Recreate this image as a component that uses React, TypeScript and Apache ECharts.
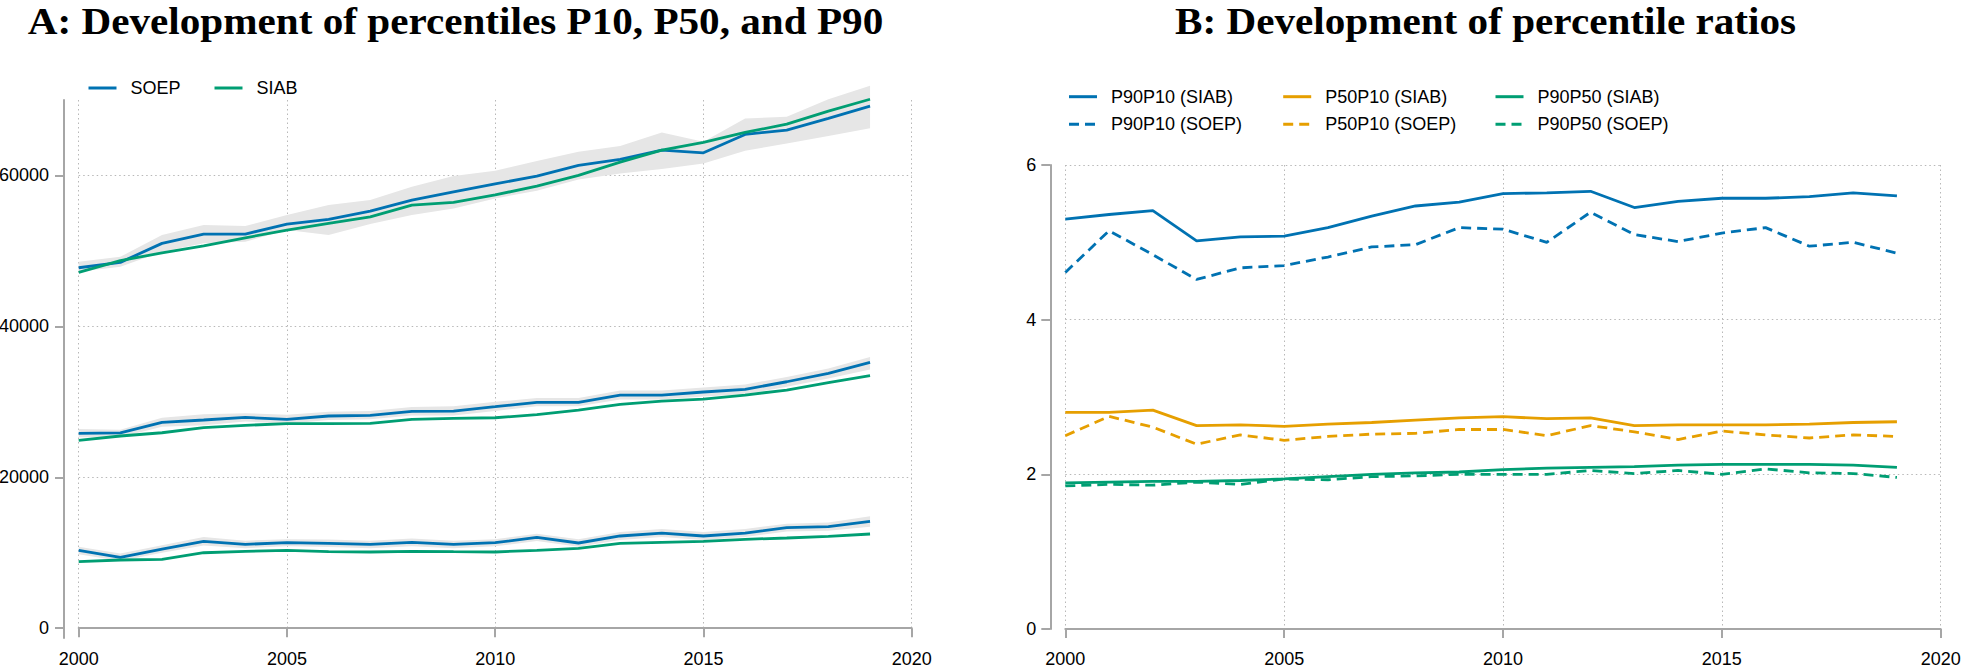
import React, { useEffect, useRef } from "react";
import * as echarts from "echarts";

const years = [2000, 2001, 2002, 2003, 2004, 2005, 2006, 2007, 2008, 2009, 2010, 2011, 2012, 2013, 2014, 2015, 2016, 2017, 2018, 2019];

// Panel A: percentiles (annual earnings)
const p90Soep = [47770, 48480, 51000, 52230, 52230, 53560, 54180, 55280, 56740, 57840, 58880, 59920, 61330, 62130, 63360, 63000, 65440, 66010, 67560, 69190];
const p90Siab = [47150, 48700, 49750, 50680, 51740, 52760, 53650, 54520, 56070, 56430, 57420, 58590, 60010, 61770, 63360, 64380, 65700, 66800, 68530, 70100];
const p90SoepLo = [47240, 47900, 49890, 51000, 51210, 52760, 52100, 53560, 54750, 55630, 56960, 57970, 59480, 60270, 60840, 61600, 63270, 64240, 65220, 66240];
const p90SoepHi = [48560, 49220, 52100, 53420, 53290, 54750, 56070, 56740, 58500, 59920, 60620, 61900, 63140, 63890, 65700, 64460, 67560, 67770, 70100, 71900];

const p50Soep = [25820, 25880, 27280, 27590, 27940, 27680, 28120, 28210, 28740, 28780, 29350, 29930, 29930, 30900, 30900, 31300, 31650, 32660, 33770, 35230];
const p50Siab = [24900, 25470, 25900, 26570, 26880, 27100, 27100, 27150, 27680, 27810, 27890, 28290, 28910, 29670, 30100, 30370, 30900, 31560, 32530, 33460];
const p50SoepLo = [25300, 25300, 26700, 26900, 27400, 27100, 27600, 27700, 28200, 28200, 28800, 29400, 29400, 30300, 30300, 30700, 31000, 32000, 33100, 34300];
const p50SoepHi = [26400, 26300, 27900, 28350, 28500, 28300, 28700, 28800, 29300, 29400, 30000, 30500, 30500, 31500, 31500, 31900, 32300, 33300, 34400, 35950];

const p10Soep = [10320, 9390, 10490, 11510, 11110, 11330, 11250, 11110, 11380, 11110, 11330, 12040, 11290, 12220, 12610, 12220, 12610, 13320, 13450, 14160];
const p10Siab = [8810, 9040, 9130, 10000, 10190, 10320, 10140, 10100, 10190, 10140, 10100, 10320, 10590, 11250, 11380, 11510, 11780, 11950, 12180, 12480];
const p10SoepLo = [9800, 8900, 10000, 10950, 10600, 10850, 10750, 10600, 10850, 10600, 10850, 11550, 10800, 11700, 12100, 11700, 12100, 12800, 12900, 13450];
const p10SoepHi = [10800, 9900, 11000, 12100, 11600, 11800, 11750, 11600, 11900, 11600, 11800, 12500, 11800, 12750, 13150, 12750, 13150, 13850, 14000, 14850];

// Panel B: percentile ratios
const p90p10Siab = [5.30, 5.36, 5.41, 5.02, 5.07, 5.08, 5.19, 5.34, 5.47, 5.52, 5.63, 5.64, 5.66, 5.45, 5.53, 5.57, 5.57, 5.59, 5.64, 5.60];
const p90p10Soep = [4.61, 5.15, 4.84, 4.52, 4.67, 4.70, 4.81, 4.94, 4.97, 5.19, 5.17, 5.00, 5.39, 5.10, 5.01, 5.12, 5.19, 4.95, 5.00, 4.86];
const p50p10Siab = [2.80, 2.80, 2.83, 2.63, 2.64, 2.62, 2.65, 2.67, 2.70, 2.73, 2.745, 2.72, 2.73, 2.63, 2.64, 2.64, 2.64, 2.65, 2.67, 2.68];
const p50p10Soep = [2.50, 2.75, 2.61, 2.39, 2.51, 2.44, 2.49, 2.52, 2.53, 2.58, 2.58, 2.50, 2.63, 2.55, 2.45, 2.56, 2.51, 2.47, 2.51, 2.49];
const p90p50Siab = [1.89, 1.90, 1.91, 1.91, 1.92, 1.94, 1.97, 2.00, 2.02, 2.03, 2.06, 2.08, 2.09, 2.10, 2.12, 2.13, 2.13, 2.13, 2.12, 2.09];
const p90p50Soep = [1.85, 1.87, 1.86, 1.90, 1.87, 1.94, 1.93, 1.97, 1.98, 2.00, 2.00, 2.00, 2.05, 2.01, 2.05, 2.00, 2.07, 2.02, 2.01, 1.96];

const yTicksA = [0, 20000, 40000, 60000];
const titleA = "A: Development of percentiles P10, P50, and P90";
const titleB = "B: Development of percentile ratios";

const BLUE = "#0072B2";
const GREEN = "#009E73";
const ORANGE = "#E69F00";
const BAND = "#e6e6e6";
const AXIS = "#a6a6a6";
const GRIDC = "#b8b8b8";
const FONT = "Liberation Sans";

const pairs = (vals: number[]) => vals.map((v, i) => [years[i], v]);

export default function App() {
  const ref = useRef<HTMLDivElement>(null);
  useEffect(() => {
    if (!ref.current) return;
    const chart = echarts.init(ref.current, null, { renderer: "svg" });

    const bandSeries = (key: string, lo: number[], hi: number[]) => ({
      type: "custom", name: key, xAxisIndex: 0, yAxisIndex: 0, clip: false, silent: true, z: 1,
      data: [[years[0], lo[0]]],
      renderItem: (_params: any, api: any) => {
        const pts: number[][] = [];
        for (let i = 0; i < years.length; i++) pts.push(api.coord([years[i], hi[i]]));
        for (let i = years.length - 1; i >= 0; i--) pts.push(api.coord([years[i], lo[i]]));
        return { type: "polygon", shape: { points: pts }, style: { fill: BAND, stroke: "none" } };
      },
    });
    const lineA = (name: string, vals: number[], color: string) => ({
      type: "line", name, xAxisIndex: 0, yAxisIndex: 0, data: pairs(vals),
      symbol: "none", clip: false, color, lineStyle: { color, width: 2.8 }, z: 3,
    });
    const lineB = (name: string, vals: number[], color: string, dashed: boolean) => ({
      type: "line", name, xAxisIndex: 1, yAxisIndex: 1, data: pairs(vals),
      symbol: "none", clip: false, color,
      lineStyle: { color, width: 2.8, type: dashed ? [10, 6] : "solid" }, z: 3,
    });

    const legendBase = {
      orient: "horizontal", padding: 0, itemWidth: 28, itemHeight: 18, selectedMode: false,
      itemStyle: { opacity: 0, borderWidth: 0 },
      lineStyle: { width: 3 },
      textStyle: { fontSize: 18, fontFamily: FONT, color: "#000", lineHeight: 18, padding: [0, 0, 0, 9] },
    };
    const leg = (name: string, left: number, cy: number) => ({ ...legendBase, data: [name], left, top: cy - 9 });

    const axisLineStyle = { show: true, lineStyle: { color: AXIS, width: 2 } };
    const tickStyle = { show: true, length: 9, inside: false, lineStyle: { color: AXIS, width: 2 } };
    const splitStyle = { show: true, lineStyle: { color: GRIDC, width: 1, type: [1.5, 3] } };
    const labelStyle = { fontSize: 18, fontFamily: FONT, color: "#000" };

    const titleStyle = (text: string) => ({
      text, fontSize: 37, fontWeight: "bold", fontFamily: "Liberation Serif", fill: "#000",
      align: "center", verticalAlign: "middle", lineHeight: 37,
    });

    const option: any = {
      animation: false,
      backgroundColor: "#ffffff",
      graphic: [
        { type: "text", x: 455.5, y: 21, scaleX: 1.113, style: titleStyle(titleA) },
        { type: "text", x: 1485.5, y: 21, scaleX: 1.113, style: titleStyle(titleB) },
      ],
      legend: [
        leg("SOEP", 87, 88),
        leg("SIAB", 213, 88),
        leg("P90P10 (SIAB)", 1067.5, 96.7),
        leg("P50P10 (SIAB)", 1281.7, 96.7),
        leg("P90P50 (SIAB)", 1494, 96.7),
        leg("P90P10 (SOEP)", 1067.5, 124.3),
        leg("P50P10 (SOEP)", 1281.7, 124.3),
        leg("P90P50 (SOEP)", 1494, 124.3),
      ],
      grid: [
        { left: 78.7, top: 100, width: 833, height: 538, containLabel: false, outerBoundsMode: "none" },
        { left: 1065.3, top: 165, width: 875.4, height: 464, containLabel: false, outerBoundsMode: "none" },
      ],
      xAxis: [
        {
          type: "value", gridIndex: 0, min: 2000, max: 2020, interval: 5, offset: 4.7,
          axisLine: axisLineStyle, axisTick: tickStyle, splitLine: splitStyle,
          axisLabel: { ...labelStyle, lineHeight: 12, margin: 10.5, formatter: (v: number) => String(v) },
        },
        {
          type: "value", gridIndex: 1, min: 2000, max: 2020, interval: 5, offset: 14.3,
          axisLine: axisLineStyle, axisTick: tickStyle, splitLine: splitStyle,
          axisLabel: { ...labelStyle, lineHeight: 12, margin: 10, formatter: (v: number) => String(v) },
        },
      ],
      yAxis: [
        {
          type: "value", gridIndex: 0, min: -1300, max: 70000, offset: 14.7,
          axisLine: axisLineStyle,
          axisTick: { ...tickStyle, customValues: yTicksA },
          splitLine: splitStyle,
          axisLabel: { ...labelStyle, margin: 15, customValues: yTicksA, formatter: (v: number) => String(v) },
        },
        {
          type: "value", gridIndex: 1, min: 0, max: 6, interval: 2, offset: 15,
          axisLine: axisLineStyle, axisTick: tickStyle, splitLine: splitStyle,
          axisLabel: { ...labelStyle, margin: 14, formatter: (v: number) => String(v) },
        },
      ],
      series: [
        bandSeries("p90band", p90SoepLo, p90SoepHi),
        bandSeries("p50band", p50SoepLo, p50SoepHi),
        bandSeries("p10band", p10SoepLo, p10SoepHi),
        lineA("SOEP", p90Soep, BLUE),
        lineA("SIAB", p90Siab, GREEN),
        lineA("SOEP", p50Soep, BLUE),
        lineA("SIAB", p50Siab, GREEN),
        lineA("SOEP", p10Soep, BLUE),
        lineA("SIAB", p10Siab, GREEN),
        lineB("P90P10 (SIAB)", p90p10Siab, BLUE, false),
        lineB("P50P10 (SIAB)", p50p10Siab, ORANGE, false),
        lineB("P90P50 (SIAB)", p90p50Siab, GREEN, false),
        lineB("P90P10 (SOEP)", p90p10Soep, BLUE, true),
        lineB("P50P10 (SOEP)", p50p10Soep, ORANGE, true),
        lineB("P90P50 (SOEP)", p90p50Soep, GREEN, true),
      ],
    };
    chart.setOption(option);
    return () => chart.dispose();
  }, []);

  return (
    <div
      ref={ref}
      style={{ position: "absolute", left: 0, top: 0, width: 1961, height: 670, background: "#fff" }}
    />
  );
}
